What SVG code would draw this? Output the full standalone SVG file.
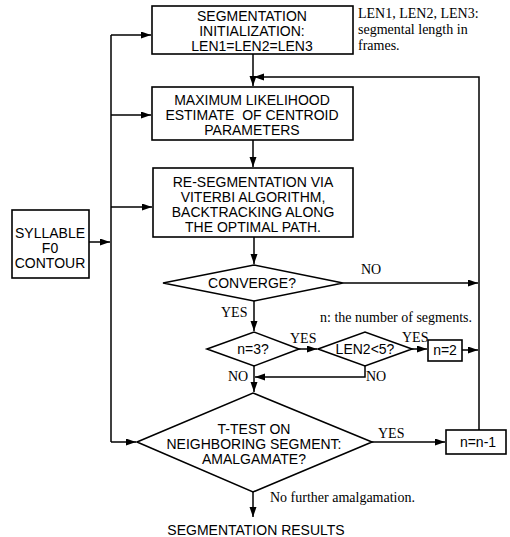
<svg xmlns="http://www.w3.org/2000/svg" width="510" height="537" viewBox="0 0 510 537">
<style>
.box{fill:#fff;stroke:#000;stroke-width:1.6}
.ln{fill:none;stroke:#000;stroke-width:1.5}
.t{font-family:"Liberation Sans",Arial,sans-serif;font-size:14px;fill:#000;text-anchor:middle}
.s{font-family:"Liberation Serif","Times New Roman",serif;font-size:14px;fill:#000}
</style>
<defs>
<marker id="ah" markerUnits="userSpaceOnUse" markerWidth="11" markerHeight="8" refX="10" refY="3.5" orient="auto">
<path d="M0,0 L10,3.5 L0,7 z" fill="#000"/>
</marker>
</defs>
<rect width="510" height="537" fill="#fff"/>
<g id="connectors">
<path class="ln" d="M111,35 V442"/>
<path class="ln" d="M111,35 H151" marker-end="url(#ah)"/>
<path class="ln" d="M111,115 H151" marker-end="url(#ah)"/>
<path class="ln" d="M111,207 H152" marker-end="url(#ah)"/>
<path class="ln" d="M111,442 H136" marker-end="url(#ah)"/>
<path class="ln" d="M89,242 H110" marker-end="url(#ah)"/>
<path class="ln" d="M253,54 V86" marker-end="url(#ah)"/>
<path class="ln" d="M479,430 V77 H254" marker-end="url(#ah)"/>
<path class="ln" d="M253,140 V167" marker-end="url(#ah)"/>
<path class="ln" d="M254,237 V264" marker-end="url(#ah)"/>
<path class="ln" d="M343,283 H478" marker-end="url(#ah)"/>
<path class="ln" d="M254,301 V331" marker-end="url(#ah)"/>
<path class="ln" d="M299,349 H317" marker-end="url(#ah)"/>
<path class="ln" d="M412,349 H427" marker-end="url(#ah)"/>
<path class="ln" d="M462,350 H478" marker-end="url(#ah)"/>
<path class="ln" d="M365,366 V377 H255" marker-end="url(#ah)"/>
<path class="ln" d="M254,366 V392" marker-end="url(#ah)"/>
<path class="ln" d="M372,442 H445" marker-end="url(#ah)"/>
<path class="ln" d="M253,492 V517" marker-end="url(#ah)"/>
</g>
<g id="init">
<rect class="box" x="152" y="6" width="201" height="48"/>
<text class="t" x="252" y="21">SEGMENTATION</text>
<text class="t" x="252" y="36">INITIALIZATION:</text>
<text class="t" x="252" y="51">LEN1=LEN2=LEN3</text>
</g>
<g id="note1">
<text class="s" x="358" y="18">LEN1, LEN2, LEN3:</text>
<text class="s" x="358" y="34">segmental length in</text>
<text class="s" x="358" y="50">frames.</text>
</g>
<g id="mle">
<rect class="box" x="152" y="87" width="201" height="53"/>
<text class="t" x="252" y="105">MAXIMUM LIKELIHOOD</text>
<text class="t" x="252" y="120" xml:space="preserve">ESTIMATE  OF CENTROID</text>
<text class="t" x="252" y="135">PARAMETERS</text>
</g>
<g id="reseg">
<rect class="box" x="153" y="168" width="200" height="69"/>
<text class="t" x="253" y="187">RE-SEGMENTATION VIA</text>
<text class="t" x="253" y="202">VITERBI ALGORITHM,</text>
<text class="t" x="253" y="217">BACKTRACKING ALONG</text>
<text class="t" x="253" y="232">THE OPTIMAL PATH.</text>
</g>
<g id="syllable">
<rect class="box" x="12" y="210" width="77" height="68"/>
<text class="t" x="50" y="238">SYLLABLE</text>
<text class="t" x="50" y="253">F0</text>
<text class="t" x="50" y="268">CONTOUR</text>
</g>
<g id="converge">
<polygon class="box" points="163,283 254,265 343,283 254,301"/>
<text class="t" x="252" y="288">CONVERGE?</text>
<text class="s" x="361" y="274">NO</text>
<text class="s" x="221" y="317">YES</text>
</g>
<g id="note2">
<text class="s" x="320" y="322">n: the number of segments.</text>
</g>
<g id="n3">
<polygon class="box" points="207,349 254,332 299,349 254,366"/>
<text class="t" x="253" y="354">n=3?</text>
<text class="s" x="290" y="343">YES</text>
<text class="s" x="228" y="381">NO</text>
</g>
<g id="len2">
<polygon class="box" points="318,349 365,332 412,349 365,366"/>
<text class="t" x="365" y="354">LEN2&lt;5?</text>
<text class="s" x="402" y="342">YES</text>
<text class="s" x="366" y="381">NO</text>
</g>
<g id="n2">
<rect class="box" x="428" y="340" width="34" height="21"/>
<text class="t" x="445" y="355">n=2</text>
</g>
<g id="ttest">
<polygon class="box" points="137,442 253,393 372,442 253,492"/>
<text class="t" x="254" y="434">T-TEST ON</text>
<text class="t" x="254" y="449">NEIGHBORING SEGMENT:</text>
<text class="t" x="254" y="464">AMALGAMATE?</text>
<text class="s" x="378" y="438">YES</text>
<text class="s" x="270" y="502">No further amalgamation.</text>
</g>
<g id="nminus">
<rect class="box" x="446" y="430" width="60" height="24"/>
<text class="t" x="478" y="447">n=n-1</text>
</g>
<g id="result">
<text class="t" x="256" y="535">SEGMENTATION RESULTS</text>
</g>
</svg>
